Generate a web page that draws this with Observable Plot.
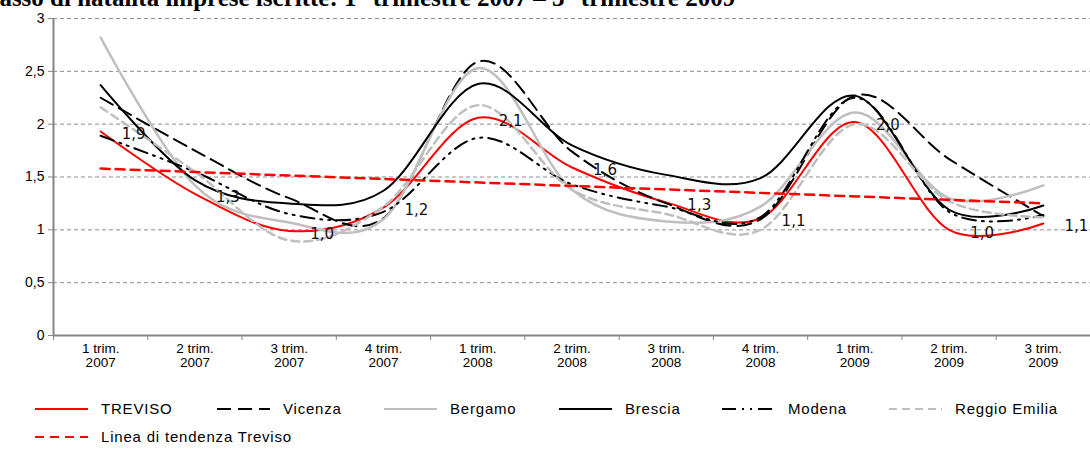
<!DOCTYPE html>
<html><head><meta charset="utf-8">
<script src="https://cdn.jsdelivr.net/npm/d3@7"></script>
<script src="https://cdn.jsdelivr.net/npm/@observablehq/plot@0.6"></script>
<style>
body{margin:0;width:1090px;height:449px;overflow:hidden;background:#fff;position:relative;font-family:"Liberation Sans",Arial,sans-serif;}
#title{position:absolute;z-index:5;left:-15px;top:-17px;font:bold 25px/29px "Liberation Serif","Times New Roman",serif;white-space:nowrap;color:#000;}
#chart{position:absolute;left:0;top:0;z-index:1;}
.lrow{position:absolute;left:35px;display:flex;align-items:center;font-size:15px;letter-spacing:0.8px;color:#000;white-space:nowrap;z-index:2;}
.litem{display:flex;align-items:center;}
.litem svg{margin-right:13px;flex:none;}
</style></head>
<body>
<div id="title">Tasso di natalità imprese iscritte: 1° trimestre 2007 – 3° trimestre 2009</div>
<div id="chart"></div>
<div class="lrow" id="leg1" style="top:400px"></div>
<div class="lrow" id="leg2" style="top:428px"></div>
<script>
const quarters = ["1 trim.\n2007","2 trim.\n2007","3 trim.\n2007","4 trim.\n2007","1 trim.\n2008","2 trim.\n2008","3 trim.\n2008","4 trim.\n2008","1 trim.\n2009","2 trim.\n2009","3 trim.\n2009"];
const treviso = [1.93, 1.34, 0.99, 1.21, 2.06, 1.59, 1.26, 1.11, 2.02, 1.00, 1.06];
const vicenza = [2.25, 1.75, 1.30, 1.11, 2.59, 1.74, 1.25, 1.10, 2.27, 1.67, 1.13];
const bergamo = [2.82, 1.42, 1.07, 1.10, 2.53, 1.38, 1.08, 1.22, 2.11, 1.30, 1.42];
const brescia = [2.37, 1.47, 1.25, 1.37, 2.38, 1.80, 1.52, 1.49, 2.27, 1.19, 1.23];
const modena  = [1.89, 1.55, 1.15, 1.17, 1.87, 1.43, 1.22, 1.12, 2.25, 1.17, 1.14];
const reggio  = [2.16, 1.55, 0.90, 1.22, 2.18, 1.38, 1.15, 1.00, 2.00, 1.27, 1.12];
const yTicks = [0, 0.5, 1, 1.5, 2, 2.5, 3];
const seriesNames = ["TREVISO","Vicenza","Bergamo","Brescia","Modena","Reggio Emilia"];
const trendName = "Linea di tendenza Treviso";

const styles = {
  "TREVISO": {stroke:"#ff0000", strokeWidth:2, dash:null},
  "Vicenza": {stroke:"#000", strokeWidth:2, dash:"14,7"},
  "Bergamo": {stroke:"#bfbfbf", strokeWidth:2.5, dash:null},
  "Brescia": {stroke:"#000", strokeWidth:2, dash:null},
  "Modena": {stroke:"#000", strokeWidth:2, dash:"14,6,2,6,2,6"},
  "Reggio Emilia": {stroke:"#bfbfbf", strokeWidth:2.5, dash:"8,5"},
  "trend": {stroke:"#ff0000", strokeWidth:2.5, dash:"9,6"}
};
const values = [treviso, vicenza, bergamo, brescia, modena, reggio];
const legendWidths = [182, 167, 175, 163, 167, 200];

// Linear trend (least squares) of Treviso series
const xs = treviso.map((_, i) => i);
const mx = d3.mean(xs), my = d3.mean(treviso);
const slope = d3.sum(xs, i => (i - mx) * (treviso[i] - my)) / d3.sum(xs, i => (i - mx) ** 2);
const trend = [0, treviso.length - 1].map(i => ({i, v: my + slope * (i - mx)}));

const fmt = v => v.toFixed(1).replace(".", ",");
const axisGray = "#868686";

const lineMarks = seriesNames.map((name, k) => {
  const s = styles[name];
  return Plot.line(values[k], {x: (d, i) => i, y: d => d, curve: "cardinal",
    stroke: s.stroke, strokeWidth: s.strokeWidth, strokeDasharray: s.dash});
});

const chart = Plot.plot({
  width: 1090, height: 385,
  marginTop: 18, marginBottom: 50, marginLeft: 53, marginRight: 0,
  x: {type: "linear", domain: [-0.5, quarters.length - 0.5]},
  y: {domain: [0, 3]},
  style: {fontFamily: "Liberation Sans, Arial, sans-serif", fontSize: "13px", color: "#000", background: "transparent"},
  marks: [
    Plot.gridY(yTicks.slice(1), {stroke: "#8c8c8c", strokeOpacity: 1, strokeDasharray: "4,3"}),
    Plot.axisY({ticks: yTicks, tickFormat: d => String(d).replace(".", ","), tickSize: 5, tickPadding: 4, stroke: axisGray, fontSize: 14, label: null}),
    Plot.axisX({ticks: d3.range(quarters.length + 1).map(i => i - 0.5), tickFormat: () => "", tickSize: 5, stroke: axisGray, label: null}),
    Plot.axisX({ticks: d3.range(quarters.length), tickFormat: i => quarters[i], tickSize: 0, tickPadding: 8, fontSize: 13.5, label: null}),
    Plot.ruleX([-0.5], {stroke: axisGray, strokeWidth: 2}),
    Plot.ruleY([0], {stroke: axisGray, strokeWidth: 2}),
    ...lineMarks,
    Plot.line(trend, {x: "i", y: "v", stroke: styles.trend.stroke, strokeWidth: styles.trend.strokeWidth, strokeDasharray: styles.trend.dash}),
    Plot.text(treviso, {x: (d, i) => i, y: d => d, text: fmt, dx: 33, dy: 3, fontSize: 15, fontFamily: "DejaVu Sans", fill: "#111"})
  ]
});
document.getElementById("chart").appendChild(chart);

// Legend
function legendItem(label, s, w) {
  const item = document.createElement("div");
  item.className = "litem";
  if (w) item.style.width = w + "px";
  const svg = d3.create("svg").attr("width", 53).attr("height", 10);
  svg.append("line").attr("x1", 0).attr("x2", 53).attr("y1", 5).attr("y2", 5)
    .attr("stroke", s.stroke).attr("stroke-width", Math.min(s.strokeWidth, 2))
    .attr("stroke-dasharray", s.dash);
  item.appendChild(svg.node());
  const t = document.createElement("span");
  t.textContent = label;
  item.appendChild(t);
  return item;
}
const leg1 = document.getElementById("leg1");
seriesNames.forEach((n, k) => leg1.appendChild(legendItem(n, styles[n], legendWidths[k])));
document.getElementById("leg2").appendChild(legendItem(trendName, styles.trend, null));
</script>
</body></html>
